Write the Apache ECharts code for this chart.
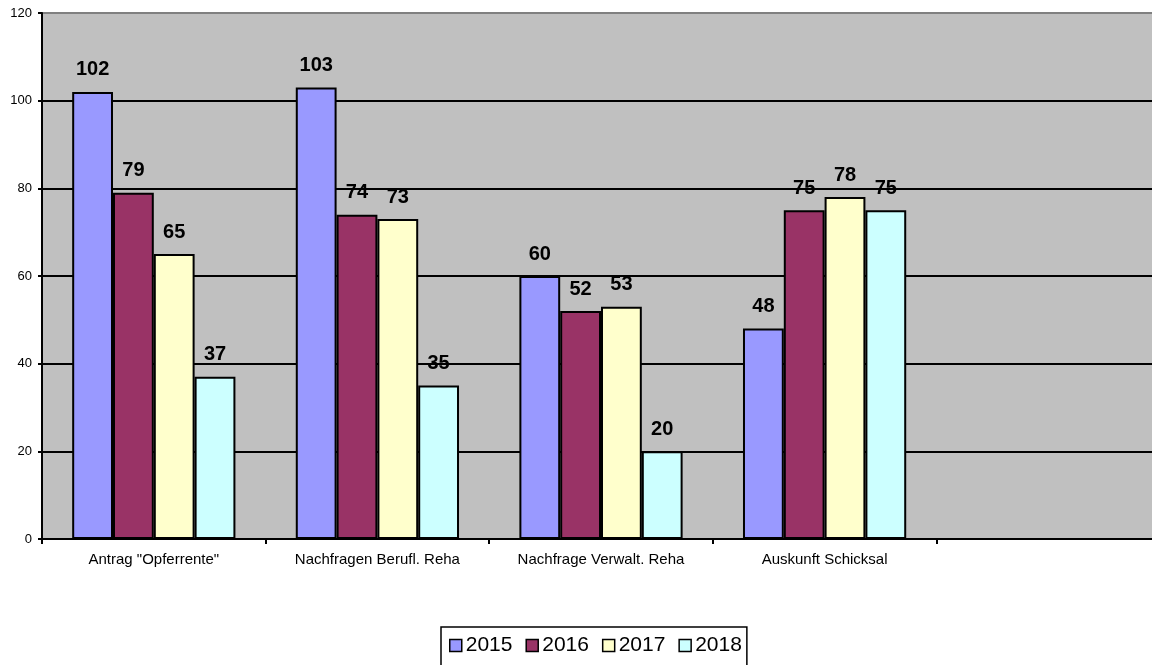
<!DOCTYPE html>
<html>
<head>
<meta charset="utf-8">
<script src="https://cdn.jsdelivr.net/npm/echarts@6/dist/echarts.min.js"></script>
<style>
  html, body { margin: 0; padding: 0; background: #fff; overflow: hidden; width: 1152px; height: 665px; }
  #chart { width: 1160px; height: 665px; }
</style>
</head>
<body>
<div id="chart"></div>
<script>
// Categories (the last slot is an empty category at the right of the plot)
const categories = ['Antrag "Opferrente"', 'Nachfragen Berufl. Reha', 'Nachfrage Verwalt. Reha', 'Auskunft Schicksal', ''];
const seriesNames = ['2015', '2016', '2017', '2018'];
const values2015 = [102, 103, 60, 48, '-'];
const values2016 = [79, 74, 52, 75, '-'];
const values2017 = [65, 73, 53, 78, '-'];
const values2018 = [37, 35, 20, 75, '-'];
const colors = ['#9999FF', '#993366', '#FFFFCC', '#CCFFFF'];
const yTicks = { min: 0, max: 120, interval: 20 };

const font = 'Arial, "Liberation Sans", sans-serif';
const allValues = [values2015, values2016, values2017, values2018];

const chart = echarts.init(document.getElementById('chart'), null, { renderer: 'canvas' });

chart.setOption({
  animation: false,
  backgroundColor: '#ffffff',
  grid: {
    left: 42,
    top: 13,
    right: 0,
    bottom: 126,
    containLabel: false,
    show: true,
    backgroundColor: '#C0C0C0',
    borderColor: '#808080',
    borderWidth: 2
  },
  legend: {
    data: seriesNames,
    left: 441,
    top: 627,
    padding: [8, 5, 30, 8],
    borderColor: '#000',
    borderWidth: 1.5,
    backgroundColor: '#fff',
    itemWidth: 12,
    itemHeight: 12,
    itemGap: 13,
    icon: 'rect',
    textStyle: { fontFamily: font, fontSize: 21, color: '#000', padding: [0, 0, 0, -1] },
    itemStyle: { borderColor: '#000', borderWidth: 1.5 }
  },
  xAxis: {
    type: 'category',
    data: categories,
    axisLine: { lineStyle: { color: '#000', width: 2 } },
    axisTick: { show: true, length: 5, lineStyle: { color: '#000', width: 2 } },
    axisLabel: { fontFamily: font, fontSize: 15, color: '#000', margin: 13 },
    splitLine: { show: false }
  },
  yAxis: {
    type: 'value',
    min: yTicks.min,
    max: yTicks.max,
    interval: yTicks.interval,
    axisLine: { show: true, lineStyle: { color: '#000', width: 2 } },
    axisTick: { show: true, length: 4, lineStyle: { color: '#000', width: 2 } },
    axisLabel: { fontFamily: font, fontSize: 13, color: '#000', margin: 10 },
    splitLine: { show: true, showMaxLine: false, lineStyle: { color: '#000', width: 2 } }
  },
  series: seriesNames.map((name, i) => ({
    name: name,
    type: 'bar',
    data: allValues[i],
    barGap: '0%',
    barCategoryGap: '27%',
    itemStyle: { color: colors[i], borderColor: '#000', borderWidth: 2 },
    label: {
      show: true,
      position: 'top',
      distance: 12,
      fontFamily: font,
      fontSize: 20,
      fontWeight: 'bold',
      color: '#000'
    }
  }))
});
</script>
</body>
</html>
